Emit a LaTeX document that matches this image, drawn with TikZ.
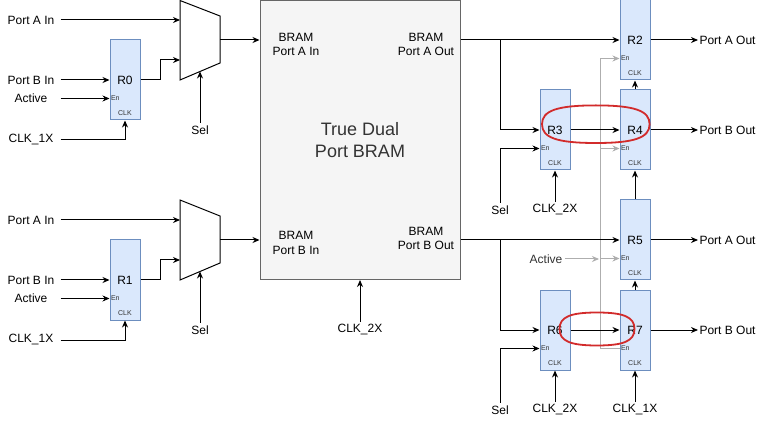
\documentclass[tikz,border=0pt]{standalone}
\usepackage{fontspec}
\setmainfont{Liberation Sans}
\usetikzlibrary{arrows.meta,calc}
\definecolor{regfill}{HTML}{DAE8FC}
\definecolor{regline}{HTML}{6C8EBF}
\definecolor{bramfill}{HTML}{F5F5F5}
\definecolor{bramline}{HTML}{666666}
\definecolor{txtgray}{HTML}{333333}
\definecolor{wire}{HTML}{AEAEAE}
\definecolor{ring}{HTML}{D22B2B}
\newcommand{\mkreg}[4]{%
  \node[regbox] (#1) at (#2,#3) {#4};
  \coordinate (#1e) at ($(#1.west)+(0,18.5)$);
  \node[tinylbl, anchor=west] (#1en) at (#1e) {En};
  \node[tinylbl] (#1clk) at ($(#1.south)+(0,-7)$) {CLK};
}
% squircle outline: center (#1,#2), half width #3, half height #4
\newcommand{\mksquircle}[4]{%
  \draw[ringst] ({#1+#3},#2)
    .. controls ({#1+#3},{#2+0.72*#4}) and ({#1+0.72*#3},{#2+#4}) .. (#1,{#2+#4})
    .. controls ({#1-0.72*#3},{#2+#4}) and ({#1-#3},{#2+0.72*#4}) .. ({#1-#3},#2)
    .. controls ({#1-#3},{#2-0.72*#4}) and ({#1-0.72*#3},{#2-#4}) .. (#1,{#2-#4})
    .. controls ({#1+0.72*#3},{#2-#4}) and ({#1+#3},{#2-0.72*#4}) .. ({#1+#3},#2) -- cycle;
}
\begin{document}
\begin{tikzpicture}[x=1pt,y=-1pt,line width=1pt,
  every node/.style={font=\fontsize{12}{14.5}\selectfont, inner sep=2pt},
  regbox/.style={draw=regline, fill=regfill, minimum width=30pt, minimum height=80pt, inner sep=0pt},
  tinylbl/.style={font=\fontsize{7}{8}\selectfont, text=txtgray, inner sep=1pt},
  lbl/.style={minimum width=58pt, inner sep=0pt, align=center},
  outlbl/.style={anchor=west, inner sep=1pt},
  arr/.style={-{Stealth[length=7pt,width=6pt]}},
  gline/.style={draw=wire},
  garr/.style={draw=wire, -{Stealth[length=7pt,width=6pt]}},
  muxst/.style={draw=black, fill=white},
  ringst/.style={draw=ring, line width=1.8pt}]
\fill[white] (0,0) rectangle (758,422);
\useasboundingbox (0,0) rectangle (758,422);

% BRAM
\node[draw=bramline, fill=bramfill, minimum width=200pt, minimum height=279pt, inner sep=0pt] (bram) at (360,140) {};
\node[align=center] (bai) at (296,44.5) {BRAM\\Port A In};
\node[align=center] (bao) at (426,44.5) {BRAM\\Port A Out};
\node[align=center] (bbi) at (296,243) {BRAM\\Port B In};
\node[align=center] (bbo) at (426,238.5) {BRAM\\Port B Out};
\node[align=center, text=txtgray, font=\fontsize{18}{21.5}\selectfont] (tdp) at (360,140) {True Dual\\Port BRAM};
\node (c2m) at (360,330) {CLK\_2X};
\draw[arr] (c2m.north) -- (bram.south);

% muxes
\draw[muxst] (180,0.5) -- (220,16) -- (220,63) -- (180,80) -- cycle;
\coordinate (m0a) at (180,20); \coordinate (m0b) at (180,60);
\coordinate (m0o) at (220,40); \coordinate (m0s) at (200,71.5);
\draw[muxst] (180,200) -- (220,216) -- (220,263) -- (180,280) -- cycle;
\coordinate (m1a) at (180,220); \coordinate (m1b) at (180,260);
\coordinate (m1o) at (220,240); \coordinate (m1s) at (200,271.5);

% registers
\mkreg{r0}{125}{80}{R0}
\mkreg{r1}{125}{280}{R1}
\mkreg{r2}{635}{40}{R2}
\mkreg{r3}{555}{130}{R3}
\mkreg{r4}{635}{130}{R4}
\mkreg{r5}{635}{240}{R5}
\mkreg{r6}{555}{330}{R6}
\mkreg{r7}{635}{330}{R7}

% left labels
\node[lbl] (pa0) at (31,20) {Port A In};
\node[lbl] (pb0) at (31,80) {Port B In};
\node[lbl] (ac0) at (31,98.5) {Active};
\node[lbl] (ck0) at (31,140) {CLK\_1X};
\node (sl0) at (200,130) {Sel};
\node[lbl] (pa1) at (31,220) {Port A In};
\node[lbl] (pb1) at (31,280) {Port B In};
\node[lbl] (ac1) at (31,298.5) {Active};
\node[lbl] (ck1) at (31,340) {CLK\_1X};
\node (sl1) at (200,330) {Sel};

\draw[arr] (pa0.east) -- (m0a);
\draw[arr] (pb0.east) -- (r0.west);
\draw[arr] (ac0.east) -- (r0e);
\draw[arr] (ck0.east) -| (r0.south);
\draw[arr] (r0.east) -- ++(20,0) |- (m0b);
\draw[arr] (sl0.north) -- (m0s);
\draw[arr] (m0o) -- (bram.west |- m0o);

\draw[arr] (pa1.east) -- (m1a);
\draw[arr] (pb1.east) -- (r1.west);
\draw[arr] (ac1.east) -- (r1e);
\draw[arr] (ck1.east) -| (r1.south);
\draw[arr] (r1.east) -- ++(20,0) |- (m1b);
\draw[arr] (sl1.north) -- (m1s);
\draw[arr] (m1o) -- (bram.west |- m1o);

% right labels
\node[outlbl] (pao1) at (698,40) {Port A Out};
\node[outlbl] (pbo1) at (698,130) {Port B Out};
\node[outlbl] (pao2) at (698,240) {Port A Out};
\node[outlbl] (pbo2) at (698,330) {Port B Out};
\node (sl2) at (500,210) {Sel};
\node (c2a) at (555,210) {CLK\_2X};
\node (sl3) at (500,410) {Sel};
\node (c2b) at (555,410) {CLK\_2X};
\node (c1b) at (635,410) {CLK\_1X};
\node[text=txtgray] (ac3) at (546,259) {Active};

% gray enable wiring
\coordinate (gt) at ($(r2e)+(-19,0)$);
\coordinate (gb) at ($(r7e)+(-19,0)$);
\draw[gline] (r7e) -- (gb) -- (gt);
\draw[garr] (gt) -- (r2e);
\draw[garr] (gt |- r4e) -- (r4e);
\draw[garr] (gt |- r5e) -- (r5e);
\draw[garr] (ac3.east) -- ($(gt |- ac3)+(-1.5,0)$);

% black right wiring
\coordinate (ja) at (500,40);
\coordinate (jb) at (500,240);
\draw[arr] (bram.east |- r2) -- (r2.west);
\draw[arr] (ja) |- (r3.west);
\draw[arr] (bram.east |- r5) -- (r5.west);
\draw[arr] (jb) |- (r6.west);
\draw[arr] (r3.east) -- (r4.west);
\draw[arr] (r6.east) -- (r7.west);
\draw[arr] (r4.north) -- (r2.south);
\draw[arr] (r5.north) -- (r4.south);
\draw[arr] (r7.north) -- (r5.south);
\draw[arr] (r2.east) -- (pao1.west);
\draw[arr] (r4.east) -- (pbo1.west);
\draw[arr] (r5.east) -- (pao2.west);
\draw[arr] (r7.east) -- (pbo2.west);
\draw[arr] (sl2.north) |- (r3e);
\draw[arr] (c2a.north) -- (r3.south);
\draw[arr] (sl3.north) |- (r6e);
\draw[arr] (c2b.north) -- (r6.south);
\draw[arr] (c1b.north) -- (r7.south);

% red highlight rings
\mksquircle{595.8}{124.2}{53.8}{18.8}
\mksquircle{597}{329}{37.5}{16.5}
\end{tikzpicture}
\end{document}
